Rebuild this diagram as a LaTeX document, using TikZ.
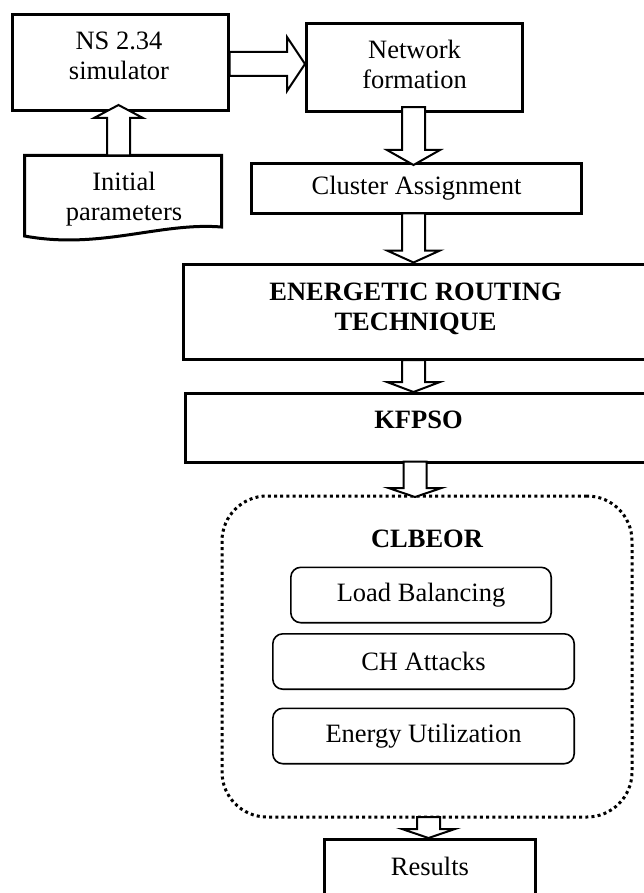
\documentclass[tikz,border=0pt]{standalone}
\usepackage{fontspec}
\setmainfont{Liberation Serif}
\usetikzlibrary{calc}
\begin{document}
\begin{tikzpicture}[x=1pt,y=-1pt,
  box/.style={draw, line width=3pt, outer sep=0pt, inner sep=0pt},
  ibox/.style={draw, line width=1.6pt, rounded corners=10pt, outer sep=0pt, inner sep=0pt,
    font=\fontsize{26.5}{30}\selectfont},
  dotbox/.style={draw, line width=3pt, dash pattern=on 3pt off 3.2pt, rounded corners=45pt,
    outer sep=0pt, inner sep=0pt},
  txt/.style={font=\fontsize{26.5}{30}\selectfont, align=center, inner sep=0pt},
  btxt/.style={font=\fontsize{26.5}{30}\selectfont\bfseries, align=center, inner sep=0pt},
  bigarr/.style={draw, fill=white, line width=2pt, miter limit=10},
  arrdown/.style={to path={let \p1=(\tikztostart), \p2=(\tikztotarget) in
    (\x1-11.5pt,\y1) -- (\x1-11.5pt,\y2+#1) -- (\x1-26.5pt,\y2+#1) -- (\x1,\y2)
    -- (\x1+26.5pt,\y2+#1) -- (\x1+11.5pt,\y2+#1) -- (\x1+11.5pt,\y1) -- cycle}},
  arrdown/.default=12pt,
  arrup/.style={to path={let \p1=(\tikztostart), \p2=(\tikztotarget) in
    (\x1-11.5pt,\y1) -- (\x1-11.5pt,\y2-13pt) -- (\x1-24.5pt,\y2-13pt) -- (\x1,\y2)
    -- (\x1+24.5pt,\y2-13pt) -- (\x1+11.5pt,\y2-13pt) -- (\x1+11.5pt,\y1) -- cycle}},
  arrright/.style={to path={let \p1=(\tikztostart), \p2=(\tikztotarget) in
    (\x1,\y1+12pt) -- (\x2-18pt,\y1+12pt) -- (\x2-18pt,\y1+27pt) -- (\x2,\y1)
    -- (\x2-18pt,\y1-27pt) -- (\x2-18pt,\y1-12pt) -- (\x1,\y1-12pt) -- cycle}},
]
\useasboundingbox (0,0) rectangle (644,893);

% boxes
\node[box, minimum width=216pt, minimum height=96.5pt] (ns) at (120.5,62.75) {};
\node[txt] (nst) at (119,56) {NS 2.34\\simulator};

\node[box, minimum width=216pt, minimum height=88pt] (net) at (414.5,67.25) {};
\node[txt] (nett) at (414.5,64) {Network\\formation};

\draw[line width=3pt] (24.5,155.5) -- (221.5,155.5) -- (221.5,227)
  .. controls (160,222) and (100,250) .. (24.5,236) -- cycle;
\node[txt] (init) at (124,199) {Initial\\parameters};

\node[box, minimum width=330pt, minimum height=50pt, font=\fontsize{26.5}{30}\selectfont] (clu) at (416.5,188.5) {Cluster Assignment};

\node[box, minimum width=464pt, minimum height=94.5pt] (ert) at (415.5,311.75) {};
\node[btxt] (ertt) at (415.5,308.75) {ENERGETIC ROUTING\\TECHNIQUE};

\node[box, minimum width=466pt, minimum height=69pt] (kf) at (418.5,428) {};
\node[btxt] (kft) at (418.5,420) {KFPSO};

\node[dotbox, minimum width=410pt, minimum height=321pt] (dbox) at (427,656.5) {};
\node[btxt] (clb) at (427,539) {CLBEOR};
\node[ibox, minimum width=260.4pt, minimum height=55.4pt] (lb) at (421,595) {Load Balancing};
\node[ibox, minimum width=301.4pt, minimum height=55.4pt] (ch) at (423.5,661.5) {CH Attacks};
\node[ibox, minimum width=301.4pt, minimum height=55.4pt] (eu) at (423.5,736) {Energy Utilization};

\node[box, minimum width=211pt, minimum height=70.5pt] (res) at (430,874.75) {};
\node[txt] (rest) at (430,866) {Results};

% arrows
\coordinate (a0) at ($(ns.east)+(1,1.25)$);
\draw[bigarr] (a0) to[arrright] ($(a0 -| net.west)+(-1.5,0)$);

\coordinate (b0) at (118.5,155.5);
\draw[bigarr] (b0) to[arrup] ($(b0 |- ns.south)+(0,-6)$);

\coordinate (c0) at ($(net.south)+(-1,-4)$);
\draw[bigarr] (c0) to[arrdown=15pt] ($(c0 |- clu.north)+(0,1.5)$);

\coordinate (c1) at ($(clu.south)+(-3,0)$);
\draw[bigarr] (c1) to[arrdown=12pt] ($(c1 |- ert.north)+(0,-2)$);

\coordinate (c2) at ($(ert.south)+(-2,1)$);
\draw[bigarr] (c2) to[arrdown=10pt] ($(c2 |- kf.north)+(0,-1.5)$);

\coordinate (c3) at ($(kf.south)+(-3.5,-1)$);
\draw[bigarr] (c3) to[arrdown=9pt] ($(c3 |- dbox.north)+(0,1)$);

\coordinate (c4) at ($(dbox.south)+(1.5,0)$);
\draw[bigarr] (c4) to[arrdown=9pt] ($(c4 |- res.north)+(0,-1.5)$);
\end{tikzpicture}
\end{document}
